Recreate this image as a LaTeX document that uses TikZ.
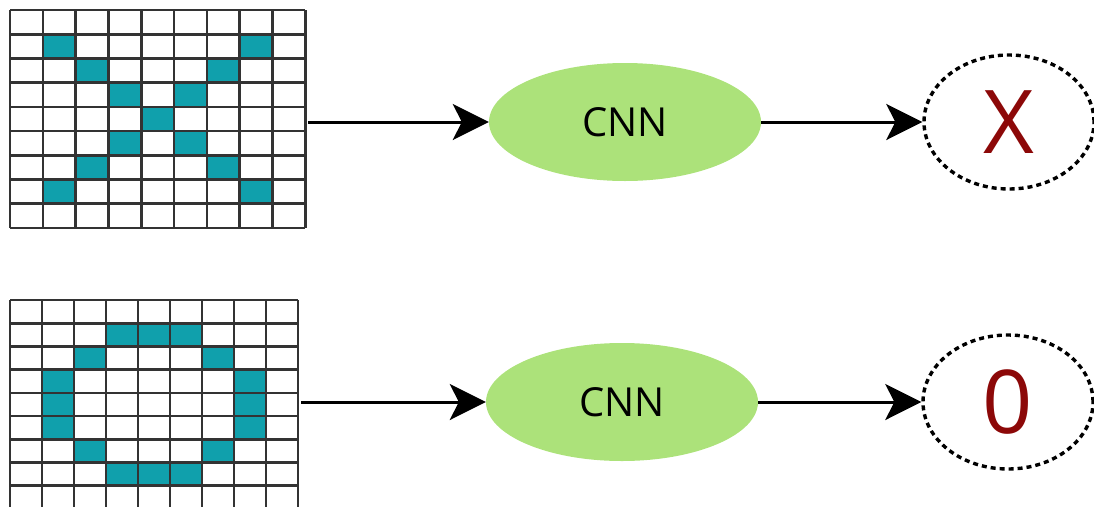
\documentclass[tikz,border=0pt]{standalone}
\usepackage{fontspec}
\setsansfont{Open Sans}
\usepackage{xcolor}
\usetikzlibrary{shapes.geometric,arrows.meta}

\definecolor{cellteal}{RGB}{16,160,172}
\definecolor{cnngreen}{RGB}{172,226,122}
\definecolor{outred}{RGB}{140,8,8}

\tikzset{
  gridline/.style={line width=2.6pt, black!80},
  cnnnode/.style={ellipse, fill=cnngreen, minimum width=272pt, minimum height=118pt,
                  font=\sffamily\fontsize{40}{44}\selectfont},
  outnode/.style={ellipse, draw, line width=3.4pt, dash pattern=on 5pt off 4pt,
                  minimum width=170pt, minimum height=134pt, text=outred,
                  font=\sffamily\fontsize{88}{92}\selectfont},
  flowarrow/.style={line width=3pt, -{Stealth[length=36pt,width=36pt,inset=9pt]}}
}

\begin{document}
\begin{tikzpicture}[x=1pt,y=-1pt]
  \useasboundingbox (0,0) rectangle (1094,506);
  \clip (0,0) rectangle (1094,506);

  % X picture
  \foreach \c/\r in {1/1,7/1,2/2,6/2,3/3,5/3,4/4,3/5,5/5,2/6,6/6,1/7,7/7}
    \fill[cellteal] (10+\c*32.8,10+\r*24.2) rectangle ++(32.8,24.2);
  \foreach \i in {0,...,9}
    \draw[gridline] (10+\i*32.8,10) -- (10+\i*32.8,228);
  \foreach \j in {0,...,9}
    \draw[gridline] (10,10+\j*24.2) -- (305,10+\j*24.2);
  \node[minimum width=295pt, minimum height=218pt, inner sep=0pt] (xgrid) at (157.5,119) {};

  % O picture
  \foreach \c/\r in {3/1,4/1,5/1,2/2,6/2,1/3,7/3,1/4,7/4,1/5,7/5,2/6,6/6,3/7,4/7,5/7}
    \fill[cellteal] (10+\c*32,300+\r*23.2) rectangle ++(32,23.2);
  \foreach \i in {0,...,9}
    \draw[gridline] (10+\i*32,300) -- (10+\i*32,512);
  \foreach \j in {0,...,9}
    \draw[gridline] (10,300+\j*23.2) -- (298,300+\j*23.2);
  \node[minimum width=288pt, minimum height=209pt, inner sep=0pt] (ogrid) at (154,404) {};

  \node[cnnnode] (xcnn) at (625,122) {CNN};
  \node[cnnnode] (ocnn) at (622,402) {CNN};
  \node[outnode] (xout) at (1009,122) {X};
  \node[outnode] (oout) at (1008,402) {0};

  \draw[flowarrow] ([xshift=3pt]xgrid.east |- xcnn) -- (xcnn);
  \draw[flowarrow] (xcnn) -- (xout);
  \draw[flowarrow] ([xshift=3pt]ogrid.east |- ocnn) -- (ocnn);
  \draw[flowarrow] (ocnn) -- (oout);
\end{tikzpicture}
\end{document}
